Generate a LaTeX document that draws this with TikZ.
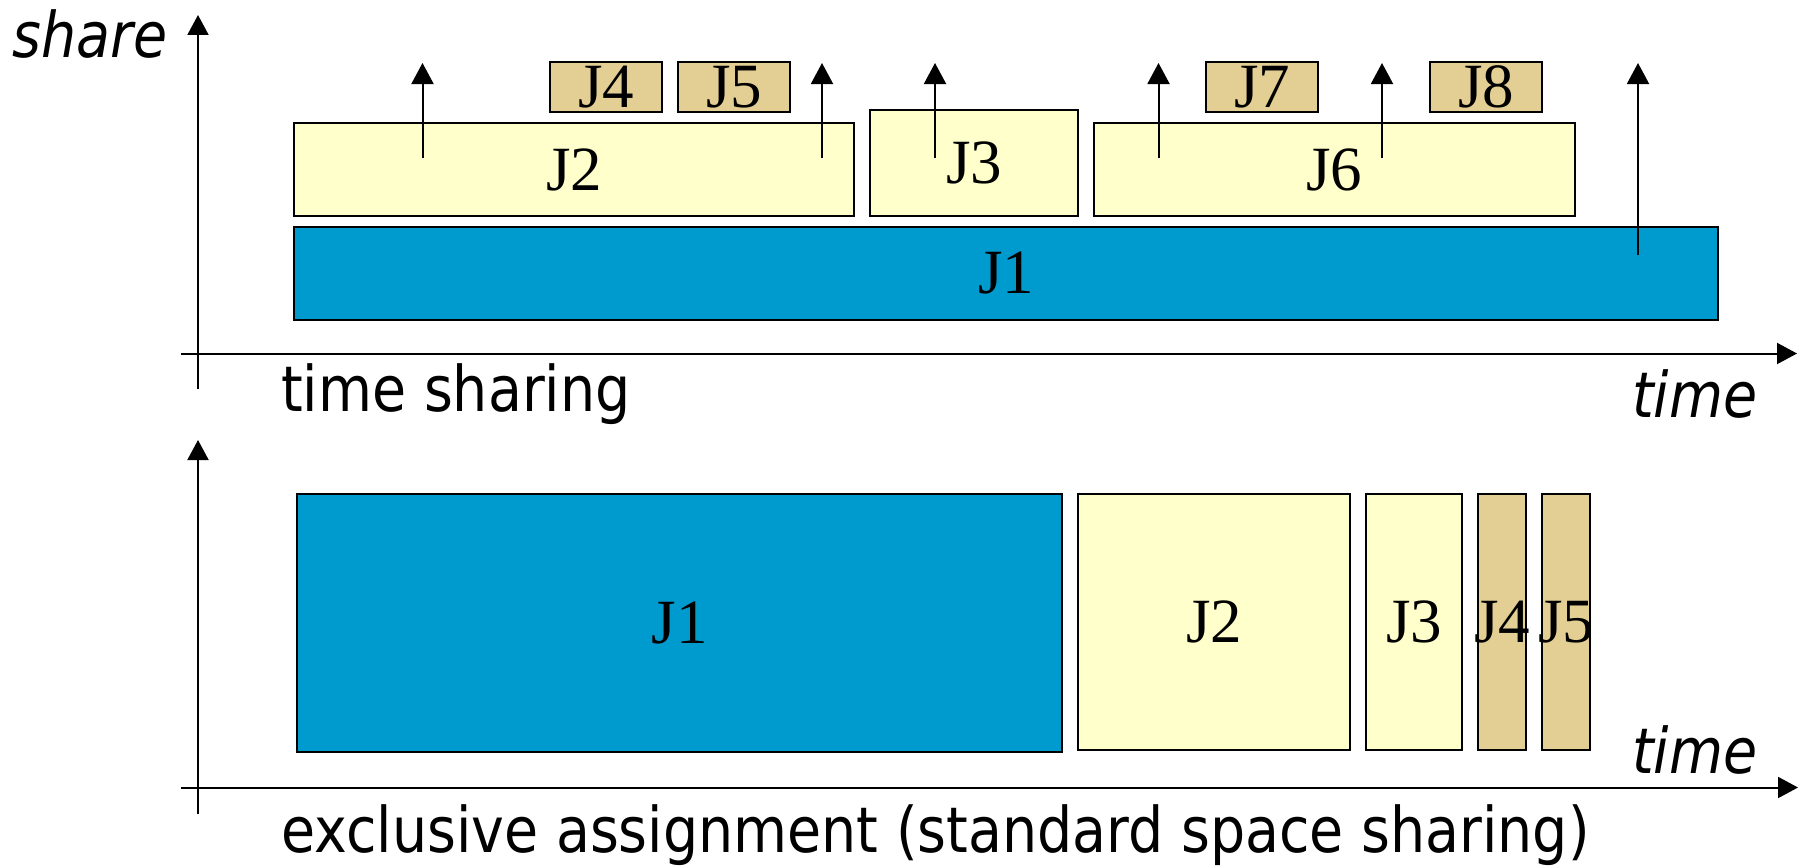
\documentclass[tikz,border=0pt]{standalone}
\usepackage{fontspec}
\setmainfont{Liberation Serif}
\newfontfamily\dejavu[FakeStretch=0.88]{DejaVu Sans}
\usetikzlibrary{arrows.meta}
\definecolor{jblue}{RGB}{0,155,206}
\definecolor{jyellow}{RGB}{255,255,204}
\definecolor{jtan}{RGB}{227,207,148}
\begin{document}
\begin{tikzpicture}[x=1pt,y=-1pt,
  job/.style={draw=black, line width=2pt, inner sep=0pt, font=\fontsize{63}{63}\selectfont},
  jobB/.style={job, fill=jblue},
  jobY/.style={job, fill=jyellow},
  jobT/.style={job, fill=jtan},
  axis/.style={line width=2pt, -{Triangle[width=21pt,length=20pt]}},
  uparr/.style={line width=2pt, -{Triangle[width=22pt,length=21pt]}},
  lbl/.style={inner sep=0pt, font=\dejavu\fontsize{63}{66}\selectfont},
  ilbl/.style={inner sep=0pt, font=\dejavu\itshape\fontsize{63}{66}\selectfont}]
\useasboundingbox (0,0) rectangle (1811,867);

% ---------- upper chart: time sharing ----------
\coordinate (uyb) at (198,389);
\coordinate (uyt) at (198,15);
\coordinate (uxl) at (181,353.5);
\coordinate (uxr) at (1797,353.5);
\draw[axis] (uyb) -- (uyt);
\draw[axis] (uxl) -- (uxr);

\node[jobB, minimum width=1424pt, minimum height=93pt] (uJ1) at (1006,273.5) {J1};
\node[jobY, minimum width=560pt, minimum height=93pt] (uJ2) at (574,169.5) {J2};
\node[jobY, minimum width=208pt, minimum height=106pt] (uJ3) at (974,163) {J3};
\node[jobY, minimum width=481pt, minimum height=93pt] (uJ6) at (1334,169.5) {J6};
\node[jobT, minimum width=112pt, minimum height=50pt] (uJ4) at (606,87) {J4};
\node[jobT, minimum width=112pt, minimum height=50pt] (uJ5) at (734,87) {J5};
\node[jobT, minimum width=112pt, minimum height=50pt] (uJ7) at (1262,87) {J7};
\node[jobT, minimum width=112pt, minimum height=50pt] (uJ8) at (1486,87) {J8};

\coordinate (a1s) at (422.5,158);  \coordinate (a1e) at (422.5,63);
\coordinate (a2s) at (822,158);    \coordinate (a2e) at (822,63);
\coordinate (a3s) at (935,158);    \coordinate (a3e) at (935,63);
\coordinate (a4s) at (1158.5,158); \coordinate (a4e) at (1158.5,63);
\coordinate (a5s) at (1382,158);   \coordinate (a5e) at (1382,63);
\coordinate (a6s) at (1638,255);   \coordinate (a6e) at (1638,63);
\draw[uparr] (a1s) -- (a1e);
\draw[uparr] (a2s) -- (a2e);
\draw[uparr] (a3s) -- (a3e);
\draw[uparr] (a4s) -- (a4e);
\draw[uparr] (a5s) -- (a5e);
\draw[uparr] (a6s) -- (a6e);

\node[ilbl, anchor=base west] (share) at (12,57) {share};
\node[lbl, anchor=base west] (ts) at (281,411) {time sharing};
\node[ilbl, anchor=base west] (utime) at (1632,417) {time};

% ---------- lower chart: exclusive assignment ----------
\coordinate (lyb) at (198,814);
\coordinate (lyt) at (198,440);
\coordinate (lxl) at (181,787.5);
\coordinate (lxr) at (1798,787.5);
\draw[axis] (lyb) -- (lyt);
\draw[axis] (lxl) -- (lxr);

\node[jobB, minimum width=765pt, minimum height=258pt] (lJ1) at (679.5,623) {J1};
\node[jobY, minimum width=272pt, minimum height=256pt] (lJ2) at (1214,622) {J2};
\node[jobY, minimum width=96pt, minimum height=256pt] (lJ3) at (1414,622) {J3};
\node[jobT, minimum width=48pt, minimum height=256pt] (lJ4) at (1502,622) {\makebox[0pt]{J4}};
\node[jobT, minimum width=48pt, minimum height=256pt] (lJ5) at (1566,622) {\makebox[0pt]{J5}};

\node[ilbl, anchor=base west] (ltime) at (1632,773) {time};
\node[lbl, anchor=base west] (ex) at (281,852) {exclusive assignment (standard space sharing)};
\end{tikzpicture}
\end{document}
